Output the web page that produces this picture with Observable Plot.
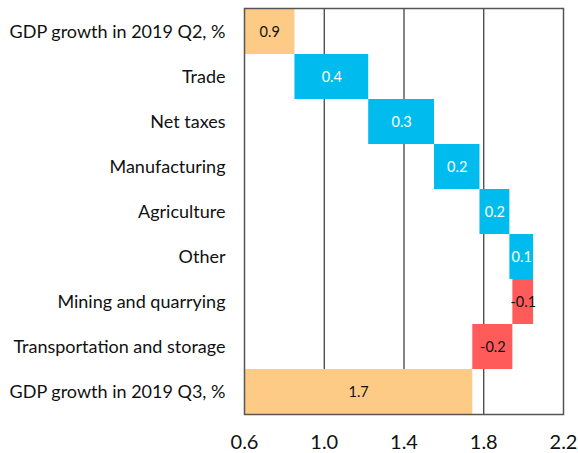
<!DOCTYPE html>
<html><head><meta charset="utf-8">
<script src="https://cdn.jsdelivr.net/npm/d3@7"></script>
<script src="https://cdn.jsdelivr.net/npm/@observablehq/plot@0.6"></script>
<style>body{margin:0;background:#fff;}</style>
</head><body><div id="chart"></div>
<script>
const categories = ["GDP growth in 2019 Q2, %", "Trade", "Net taxes", "Manufacturing", "Agriculture", "Other", "Mining and quarrying", "Transportation and storage", "GDP growth in 2019 Q3, %"];
const kinds = ["total", "delta", "delta", "delta", "delta", "delta", "delta", "delta", "total"];
const values = [0.853, 0.37, 0.33, 0.228, 0.15, 0.119, -0.104, -0.201, 1.745];
const valueLabels = ["0.9", "0.4", "0.3", "0.2", "0.2", "0.1", "-0.1", "-0.2", "1.7"];
const xTicks = [0.6, 1.0, 1.4, 1.8, 2.2];
const gridTicks = [1.0, 1.4, 1.8];

const xMin = xTicks[0], xMax = xTicks[xTicks.length - 1];
let run = 0;
const rows = categories.map((c, i) => {
  let x1, x2, type;
  if (kinds[i] === "total") { x1 = 0; x2 = values[i]; run = values[i]; type = "total"; }
  else { x1 = run; x2 = run + values[i]; run = x2; type = values[i] >= 0 ? "pos" : "neg"; }
  const lo = Math.max(Math.min(x1, x2), xMin), hi = Math.max(x1, x2);
  return {cat: c, x1, x2, type, mid: (lo + hi) / 2, label: valueLabels[i]};
});
const fillOf = {total: "#FECB87", pos: "#00BCEE", neg: "#FF5B5B"};
const textOf = {total: "#111", pos: "#fff", neg: "#111"};

const chart = Plot.plot({
  width: 578, height: 453,
  marginLeft: 244, marginRight: 15, marginTop: 8, marginBottom: 39,
  style: {fontFamily: "Lato, 'Open Sans', sans-serif", background: "#fff"},
  x: {domain: [xMin, xMax]},
  y: {domain: categories, padding: 0},
  marks: [
    Plot.ruleX(gridTicks, {stroke: "#333", strokeWidth: 1.2}),
    Plot.barX(rows, {x1: "x1", x2: "x2", y: "cat", fill: d => fillOf[d.type], clip: true}),
    Plot.text(rows, {x: "mid", y: "cat", text: "label", fill: d => textOf[d.type], fontSize: 14.5}),
    Plot.frame({stroke: "#555", strokeWidth: 1.5}),
    Plot.axisX({ticks: xTicks, tickFormat: d => d.toFixed(1), tickSize: 0, tickPadding: 20, fontSize: 20, label: null, fill: "#111"}),
    Plot.axisY({tickSize: 0, tickPadding: 19, fontSize: 18, label: null, fill: "#111"})
  ]
});
document.getElementById("chart").append(chart);
</script>
</body></html>
